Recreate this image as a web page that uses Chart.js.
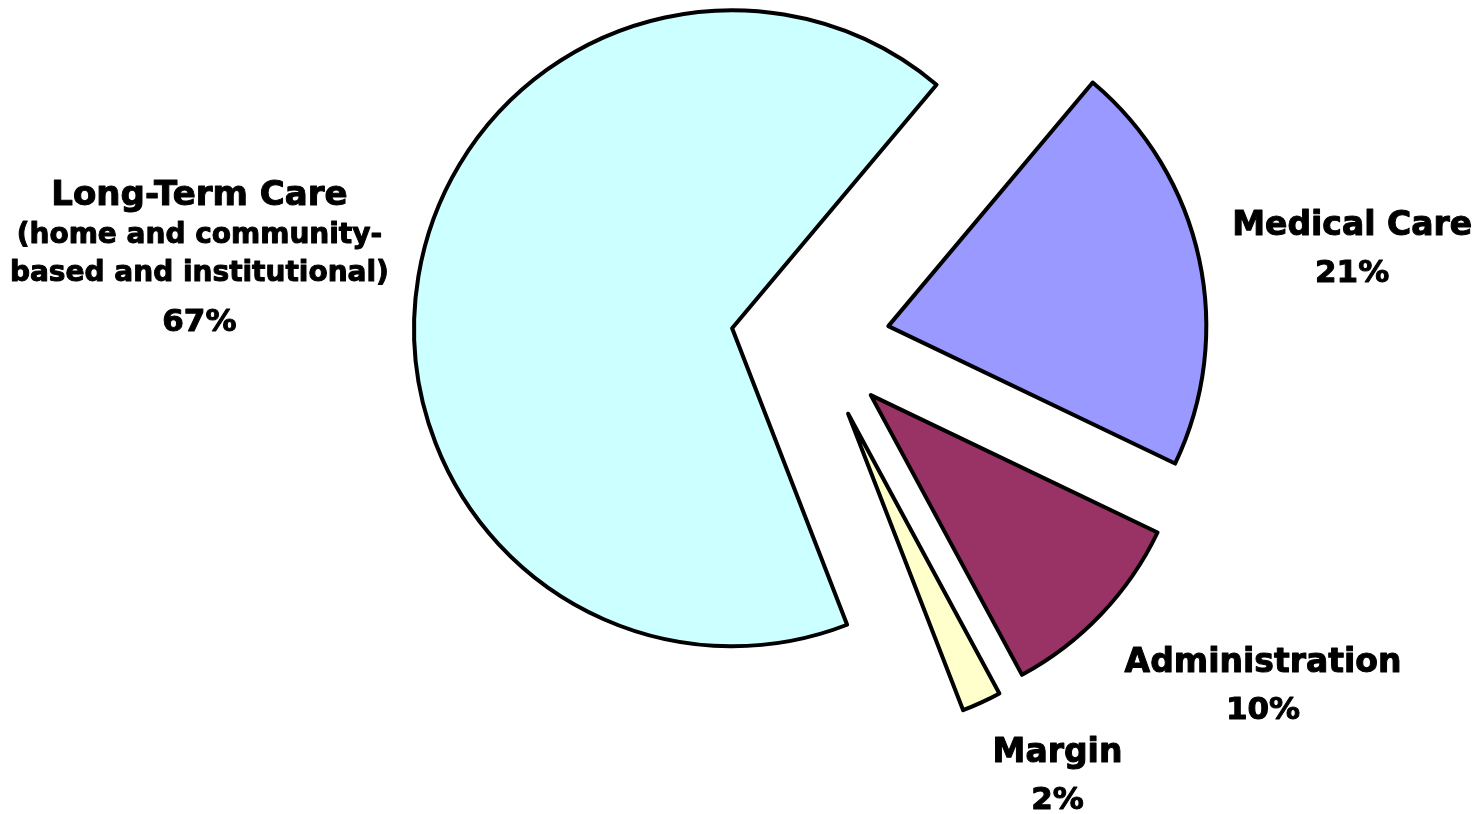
<!DOCTYPE html>
<html>
<head>
<meta charset="utf-8">
<script src="https://cdn.jsdelivr.net/npm/chart.js@4.4.0/dist/chart.umd.min.js"></script>
<style>
  html, body { margin: 0; padding: 0; background: #fff; }
  #wrap { width: 1481px; height: 814px; }
</style>
</head>
<body>
<div id="wrap"><canvas id="pie" width="1481" height="814"></canvas></div>
<script>
// slice order runs clockwise from the upper right
const categories = ["Medical Care", "Administration", "Margin", "Long-Term Care"];
const shares = [21, 10, 2, 67];
const extraLines = [[], [], [], ["(home and community-", "based and institutional)"]];
const sliceColors = ["#9999FF", "#993366", "#FFFFCC", "#CCFFFF"];

// how far each slice is pulled away from the middle (px)
const explode = [75, 77, 79, 84];
// first label baseline, relative to the rim point at the slice's mid-angle
const labelShift = [[153, -24], [162, 58], [76, 60], [-219, -71]];

const LABEL_FONT = '"DejaVu Sans", sans-serif';

// push every arc outward along its own mid-angle
const explodePlugin = {
  id: "explodeSlices",
  afterDatasetUpdate(chart, args) {
    args.meta.data.forEach((arc, i) => {
      const mid = (arc.startAngle + arc.endAngle) / 2;
      arc.x += Math.cos(mid) * explode[i];
      arc.y += Math.sin(mid) * explode[i];
    });
  },
};

const labelPlugin = {
  id: "sliceLabels",
  afterDatasetsDraw(chart) {
    const ctx = chart.ctx;
    const meta = chart.getDatasetMeta(0);
    ctx.save();
    ctx.fillStyle = "#000";
    ctx.strokeStyle = "#000";
    ctx.lineWidth = 1;
    ctx.lineJoin = "round";
    ctx.textAlign = "center";
    ctx.textBaseline = "alphabetic";
    meta.data.forEach((arc, i) => {
      const mid = (arc.startAngle + arc.endAngle) / 2;
      const x = arc.x + Math.cos(mid) * arc.outerRadius + labelShift[i][0];
      let y = arc.y + Math.sin(mid) * arc.outerRadius + labelShift[i][1];

      const lines = [{ text: categories[i], size: i === 3 ? 34 : 33, gap: 0 }];
      extraLines[i].forEach((t) => {
        lines.push({ text: t, size: 28, gap: 38 });
      });
      lines.push({ text: shares[i] + "%", size: 31, gap: extraLines[i].length ? 50 : 47 });

      lines.forEach((ln) => {
        y += ln.gap;
        ctx.font = "bold " + ln.size + "px " + LABEL_FONT;
        ctx.fillText(ln.text, x, y);
        ctx.strokeText(ln.text, x, y);
      });
    });
    ctx.restore();
  },
};

new Chart(document.getElementById("pie"), {
  type: "pie",
  data: {
    labels: categories,
    datasets: [
      {
        data: shares,
        backgroundColor: sliceColors,
        borderColor: "#000",
        borderWidth: 4,
        borderJoinStyle: "round",
        rotation: 40,
        radius: 318,
        clip: false,
      },
    ],
  },
  options: {
    responsive: false,
    animation: false,
    events: [],
    layout: { padding: { left: 149, right: 0, top: 0, bottom: 130 } },
    plugins: {
      legend: { display: false },
      tooltip: { enabled: false },
    },
  },
  plugins: [explodePlugin, labelPlugin],
});
</script>
</body>
</html>
